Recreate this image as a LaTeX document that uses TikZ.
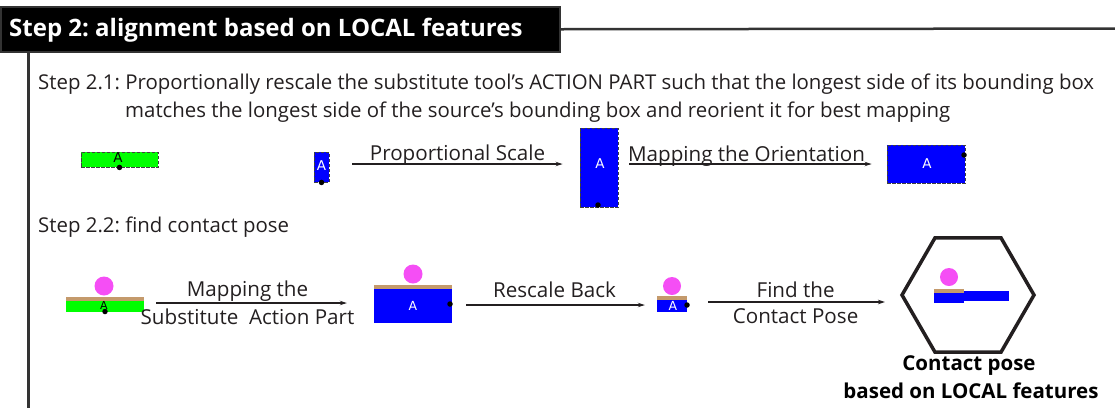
\documentclass[tikz,border=0pt]{standalone}
\usepackage{fontspec}
\setmainfont{Open Sans}
\newfontfamily\afont{DejaVu Sans}
\usetikzlibrary{arrows.meta,shapes.geometric}
\definecolor{lineC}{HTML}{231F20}
\definecolor{bluC}{HTML}{0000FF}
\definecolor{grnC}{HTML}{00FF00}
\definecolor{pinkC}{HTML}{F54EF5}
\definecolor{tanC}{HTML}{C49A6C}
\frenchspacing
\tikzset{
  dbox/.style={draw=black!75, dash pattern=on 3.5pt off 1.5pt, line width=0.9pt, inner sep=0pt},
  solid box/.style={inner sep=0pt, draw=none},
  arr/.style={-{Stealth[length=7pt,width=4.5pt]}, line width=1.1pt, draw=lineC},
  dot/.style={circle, fill=black, inner sep=0pt, minimum size=5.5pt},
  ball/.style={circle, fill=pinkC, inner sep=0pt, minimum size=19pt},
  lbl/.style={font=\fontsize{20.6}{24}\selectfont, text=lineC, inner sep=0pt},
  body/.style={font=\fontsize{20.4}{24}\selectfont, text=lineC, inner sep=0pt, anchor=base west},
  alab/.style={font=\afont\fontsize{13.5}{14}\selectfont, inner sep=0pt},
  captxt/.style={font=\bfseries\fontsize{20.5}{24}\selectfont, text=black, inner sep=0pt, anchor=base}
}
\begin{document}
\begin{tikzpicture}[x=1pt,y=-1pt]
\useasboundingbox (0,0) rectangle (1115,408);

% header
\node (title) [anchor=north west, minimum width=559pt, minimum height=45pt, fill=black, draw=black!80, line width=1.5pt, inner sep=0pt] at (0,6) {};
\node (titletxt) [anchor=base west, text=white, font=\bfseries\fontsize{24}{28}\selectfont, inner sep=0pt] at (9,36) {Step 2: alignment based on LOCAL features};
\coordinate (hend) at (1115,28.5);
\draw[line width=2.5pt, draw=black!80] (title.east) -- (hend);
\coordinate (vtop) at (28,51);
\coordinate (vbot) at (28,408);
\draw[line width=3pt, draw=black!80] (vtop) -- (vbot);

% step 2.1 text
\node (s21a) [body] at (38,89) {Step 2.1: Proportionally rescale the substitute tool's ACTION PART such that the longest side of its bounding box};
\node (s21b) [body] at (125,117) {matches the longest side of the source's bounding box and reorient it for best mapping};

% step 2.1 shapes
\node (g1) [dbox, fill=grnC, minimum width=77pt, minimum height=15pt] at (119.5,159.5) {};
\node (g1A) [alab, text=black] at (118,158) {A};
\node (g1d) [dot] at (g1.south) {};

\node (sb) [dbox, fill=bluC, minimum width=15pt, minimum height=30pt] at (321.5,167) {};
\node (sbA) [alab, text=white] at (321.5,166) {A};
\node (sbd) [dot] at (sb.south) {};

\node (bb) [dbox, fill=bluC, minimum width=38pt, minimum height=79pt] at (599,167.5) {};
\node (bbA) [alab, text=white] at (600,164) {A};
\node (bbd) [dot] at (598,205) {};

\node (wb) [dbox, fill=bluC, minimum width=78pt, minimum height=38pt] at (926,164) {};
\node (wbA) [alab, text=white] at (927,164) {A};
\node (wbd) [dot] at (964,155) {};

\draw[arr] ([shift={(23,-3)}]sb.east) -- ([shift={(-17,-3.5)}]bb.west)
  node[lbl, midway, anchor=base, yshift=4pt] {Proportional Scale};
\draw[arr] ([shift={(11,-3.5)}]bb.east) -- ([shift={(-15,0)}]wb.west)
  node[lbl, midway, anchor=base, yshift=3pt, xshift=-4pt] {Mapping the Orientation};

% step 2.2 text
\node (s22) [body] at (38,232) {Step 2.2: find contact pose};

% step 2.2 object 1 (source)
\node (g2) [solid box, fill=grnC, minimum width=78pt, minimum height=11pt] at (105,306.5) {};
\node (g2t) [solid box, fill=tanC, minimum width=78pt, minimum height=4pt, anchor=south] at (g2.north) {};
\node (g2b) [ball] at (104,286) {};
\node (g2A) [alab, text=black, font=\afont\fontsize{11}{12}\selectfont] at (104,305) {A};
\node (g2d) [dot] at (105,311.5) {};

% object 2
\node (b2) [solid box, fill=bluC, minimum width=78pt, minimum height=34pt] at (413,306) {};
\node (b2t) [solid box, fill=tanC, minimum width=78pt, minimum height=4pt, anchor=south] at (b2.north) {};
\node (b2b) [ball] at (413,274) {};
\node (b2A) [alab, text=white, font=\afont\fontsize{12.5}{13}\selectfont] at (413,306) {A};
\node (b2d) [dot] at (450,304) {};

% object 3 (small)
\node (b3) [solid box, fill=bluC, minimum width=30pt, minimum height=12pt] at (672,306) {};
\node (b3t) [solid box, fill=tanC, minimum width=30pt, minimum height=3.5pt, anchor=south] at (b3.north) {};
\node (b3b) [ball, minimum size=18pt] at (672,286) {};
\node (b3A) [alab, text=white, font=\afont\fontsize{12.5}{13}\selectfont] at (673,306) {A};
\node (b3d) [dot] at (687,305) {};

% hexagon result
\node (hex) [regular polygon, regular polygon sides=6, minimum size=132pt, inner sep=0pt, draw=lineC, line width=3.5pt] at (968,295) {};
\node (h1) [solid box, fill=bluC, minimum width=30pt, minimum height=10pt] at (949,298) {};
\node (h1t) [solid box, fill=tanC, minimum width=30pt, minimum height=4pt, anchor=south] at (h1.north) {};
\node (h2) [solid box, fill=bluC, minimum width=45pt, minimum height=10pt, anchor=west] at (964,296) {};
\node (hb) [ball, minimum size=18pt] at (949,277) {};
\node (c1) [captxt] at (969,370) {Contact pose};
\node (c2) [captxt] at (971,398) {based on LOCAL features};

% arrows step 2.2
\draw[arr] ([shift={(12,-3.5)}]g2.east) -- ([shift={(-27,-3)}]b2.west)
  node[lbl, midway, anchor=base, yshift=7pt, xshift=-4pt] {Mapping the}
  node[lbl, midway, anchor=north, yshift=-5pt, xshift=-4pt] {Substitute~ Action Part};
\draw[arr] ([shift={(14,-1)}]b2.east) -- ([shift={(-12,-1)}]b3.west)
  node[lbl, midway, anchor=base, yshift=8pt, xshift=-1pt] {Rescale Back};
\draw[arr] ([shift={(21,-4)}]b3.east) -- ([shift={(-15,7)}]hex.west)
  node[lbl, midway, anchor=base, yshift=5pt, xshift=-1pt] {Find the}
  node[lbl, midway, anchor=north, yshift=-6pt, xshift=-1pt] {Contact Pose};
\end{tikzpicture}
\end{document}
